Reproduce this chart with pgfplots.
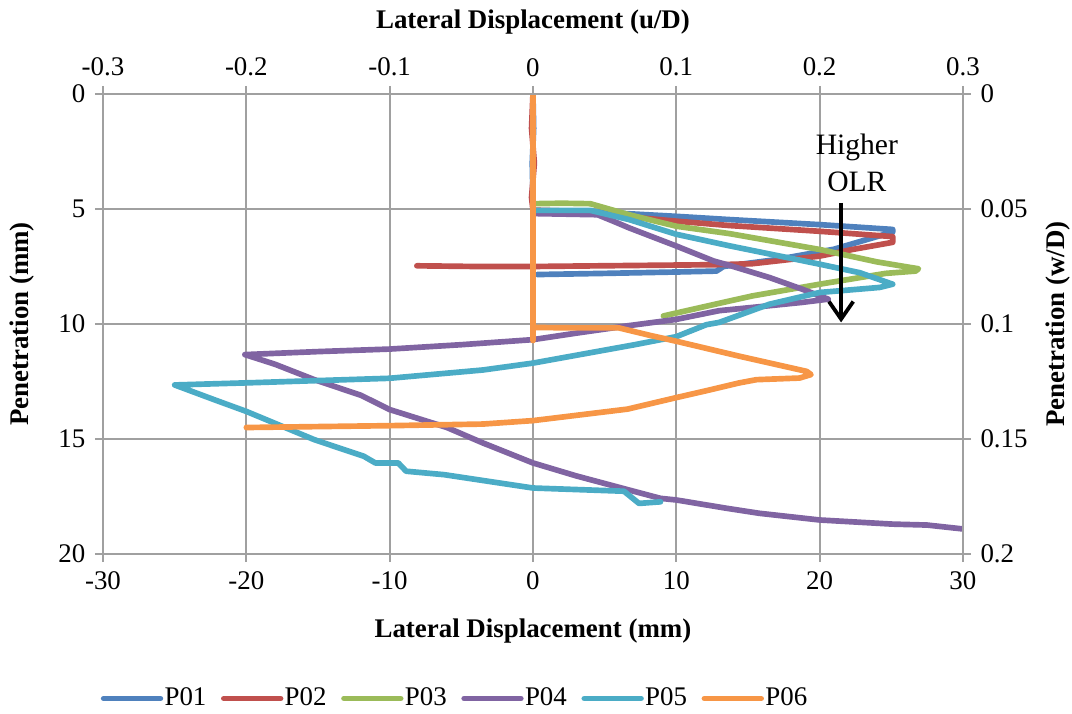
\documentclass[border=0pt]{standalone}
\usepackage{fontspec}
\setmainfont{Liberation Serif}
\usepackage{pgfplots}
\pgfplotsset{compat=1.18}
\usetikzlibrary{arrows.meta,calc}

\definecolor{cA}{HTML}{4F81BD}
\definecolor{cB}{HTML}{C0504D}
\definecolor{cC}{HTML}{9BBB59}
\definecolor{cD}{HTML}{8064A2}
\definecolor{cE}{HTML}{4BACC6}
\definecolor{cF}{HTML}{F79646}
\definecolor{gridc}{HTML}{A0A0A0}

\pgfplotsset{
  common/.style={
    scale only axis, width=318.5bp, height=170.4bp,
    y dir=reverse,
    tick align=outside, major tick length=3bp,
    tick style={draw=gridc, line width=0.7bp},
    axis line style={draw=gridc, line width=0.7bp},
    tick label style={font=\fontsize{10}{12}\selectfont},
    label style={font=\fontsize{10}{12}\selectfont\bfseries},
  },
  serie/.style={line width=2.1bp, line join=round, line cap=round},
}

\begin{document}
\begin{tikzpicture}
\begin{axis}[common, name=main,
    xmin=-30, xmax=30, ymin=0, ymax=20,
    axis x line*=bottom, axis y line*=left,
    xtick={-30,-20,...,30}, xticklabels={-30,-20,-10,0,10,20,30},
    ytick={0,5,...,20}, yticklabels={0,5,10,15,20},
    grid=major, grid style={draw=gridc, line width=0.7bp},
    xlabel={Lateral Displacement (mm)},
    ylabel={Penetration (mm)},
    xlabel style={yshift=-4bp},
    ylabel style={yshift=2bp},
    legend style={at={(0.409,-0.314)}, anchor=center, draw=none, fill=none,
      legend columns=6, font=\fontsize{10}{12}\selectfont,
      nodes={inner xsep=0.5bp},
      /tikz/every even column/.append style={column sep=4.9bp},
      inner sep=0pt},
    legend image code/.code={\draw[#1, line cap=round] (0bp,0bp) -- (21bp,0bp);},
]
\addplot[serie, cA] coordinates {
(0,0) (0.05,1.5) (-0.05,3) (0,4.5) (0,5.1) (3,5.1) (5,5.15) (10,5.32) (13.7,5.46)
(20,5.68) (25.1,5.89) (25.1,6.0) (24,6.2) (21,6.75) (17,7.2) (13.3,7.5) (12.8,7.7)
(10,7.74) (5,7.8) (0.3,7.85)
};
\addlegendentry{P01}
\addplot[serie, cB] coordinates {
(0,0) (-0.1,1.5) (0.1,3) (-0.1,4.5) (0,5.05) (3,5.1) (6,5.3) (10,5.53) (13.7,5.72)
(20,5.97) (25.1,6.2) (25.1,6.45) (22.3,6.76) (20,7.05) (15.3,7.38) (13,7.42)
(8,7.45) (0,7.5) (-4,7.5) (-8.1,7.47)
};
\addlegendentry{P02}
\addplot[serie, cC] coordinates {
(0,0) (0,4.77) (2,4.75) (4,4.77) (6.7,5.25) (10,5.75) (13.7,6.07) (20,6.76)
(24,7.3) (26.9,7.6) (26.7,7.7) (24.6,7.8) (20,8.27) (15.3,8.78) (13,9.1) (9.1,9.65)
};
\addlegendentry{P03}
\addplot[serie, cD] coordinates {
(0,0) (0,5.2) (4.5,5.25) (5.6,5.53) (6.7,5.82) (10,6.61) (12.6,7.26) (13.7,7.45)
(16.5,7.98) (18.8,8.49) (20.6,8.92) (18.8,9.06) (15.3,9.28) (13,9.42) (10,9.8)
(6.7,10.07) (3,10.4) (0,10.68) (-5,10.9) (-10,11.09) (-15,11.2) (-20.1,11.33)
(-18,11.75) (-15.25,12.42) (-12,13.1) (-10,13.72) (-6,14.5) (-3.5,15.17) (0,16.04)
(3,16.6) (6.6,17.2) (8.9,17.58) (10,17.65) (13.5,18.01) (15.8,18.23) (20,18.52)
(25.1,18.7) (27.5,18.74) (30,18.91)
};
\addlegendentry{P04}
\addplot[serie, cE] coordinates {
(0,0) (0,5.06) (4,5.06) (6.7,5.46) (10,6.1) (13.7,6.6) (20,7.4) (22.8,7.77)
(25.1,8.27) (24.2,8.41) (20,8.63) (16.5,9.14) (13,9.93) (12.1,10.03) (10,10.55)
(7.1,10.9) (0,11.7) (-3.5,12.0) (-10,12.36) (-19.5,12.55) (-25,12.65) (-22.2,13.3)
(-20,13.8) (-15.25,15.03) (-11.8,15.75) (-11,16.04) (-9.4,16.04) (-8.85,16.4)
(-6.2,16.55) (0,17.13) (6.35,17.27) (7.4,17.8) (8.9,17.73)
};
\addlegendentry{P05}
\addplot[serie, cF] coordinates {
(0,0) (0,10.72) (0,10.15) (3,10.17) (6,10.17) (8.2,10.5) (10,10.75) (14.4,11.4)
(19.1,12.06) (19.4,12.2) (18.6,12.35) (15.6,12.42) (14.4,12.56) (12.1,12.9)
(10,13.2) (6.6,13.7) (0,14.2) (-3.5,14.35) (-10,14.42) (-20,14.5)
};
\addlegendentry{P06}
\draw[line width=1.4bp, -{Straight Barb[length=6.5bp, width=9bp, line width=1.4bp]}]
  (axis cs:21.5,4.74) -- (axis cs:21.5,9.93);
\node[align=center, font=\fontsize{11}{13.7}\selectfont, inner sep=0pt]
  at (axis cs:22.6,3.0) {Higher\\OLR};
\end{axis}
\begin{axis}[common,
    at={(main.south west)}, anchor=south west,
    xmin=-0.3, xmax=0.3, ymin=0, ymax=0.2,
    axis x line*=top, axis y line*=right,
    xtick={-0.3,-0.2,...,0.3}, xticklabels={-0.3,-0.2,-0.1,0,0.1,0.2,0.3},
    ytick={0,0.05,...,0.2}, yticklabels={0,0.05,0.1,0.15,0.2},
    xlabel={Lateral Displacement (u/D)},
    ylabel={Penetration (w/D)},
    xlabel style={yshift=2bp},
]
\end{axis}
\pgfresetboundingbox
\path[use as bounding box] ($(main.south west)+(-38.15bp,-58.9bp)$) rectangle ($(main.north east)+(40.4bp,34.8bp)$);
\end{tikzpicture}
\end{document}
